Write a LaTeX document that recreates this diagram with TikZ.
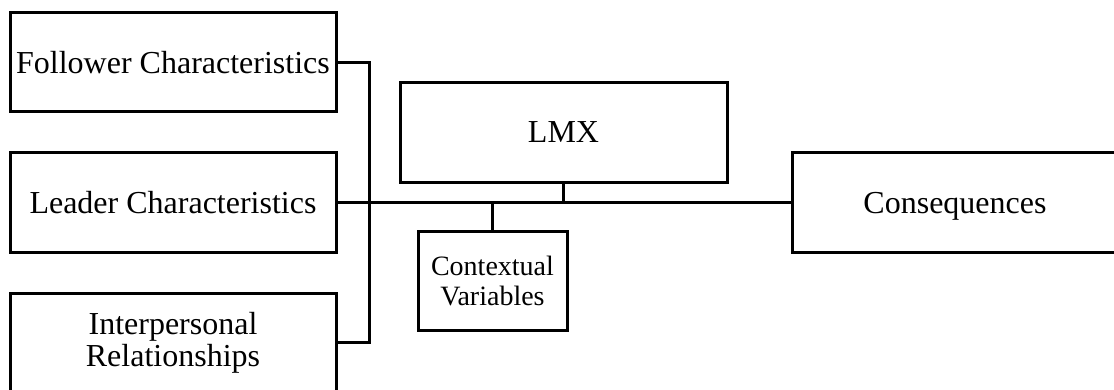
\documentclass[tikz,border=0pt]{standalone}
\usepackage{fontspec}
\setmainfont{Liberation Serif}
\usetikzlibrary{positioning,calc}

\tikzset{
  factor/.style={draw, line width=1.5pt, minimum width=163pt, minimum height=49.5pt,
    inner sep=0pt, align=center, font=\fontsize{16}{16}\selectfont},
  smallbox/.style={factor, minimum width=74.5pt, font=\fontsize{14}{15}\selectfont},
  link/.style={line width=1.5pt}
}

\begin{document}
\begin{tikzpicture}[x=0.5pt, y=-0.5pt]
\useasboundingbox (0,0) rectangle (1114,390);
\clip (0,0) rectangle (1114,390);

% antecedents
\node[factor] (follower) at (173,62.5) {Follower Characteristics};
\node[factor] (leader) at (173,202.5) {Leader Characteristics};
\node[factor] (interp) at (173,342.5) {Interpersonal\\Relationships};

% centre and outcome
\node[factor, minimum width=163.5pt] (lmx) at (563.5,132.5) {LMX};
\node[smallbox] (context) at (492.5,280.5) {Contextual\\Variables};
\node[factor, text depth=0pt] (conseq) at (955,202.5) {Consequences};

% bracket joining the antecedents
\coordinate (bus) at (369,202.5);
\draw[link] (follower.east) -| (bus) |- (interp.east);

% main line
\draw[link] (leader.east) -- (bus);
\draw[line width=1.8pt] (bus) -- (conseq.west);
\draw[link] (lmx.south) -- (lmx.south |- bus);
\draw[link] (context.north) -- (context.north |- bus);
\end{tikzpicture}
\end{document}
